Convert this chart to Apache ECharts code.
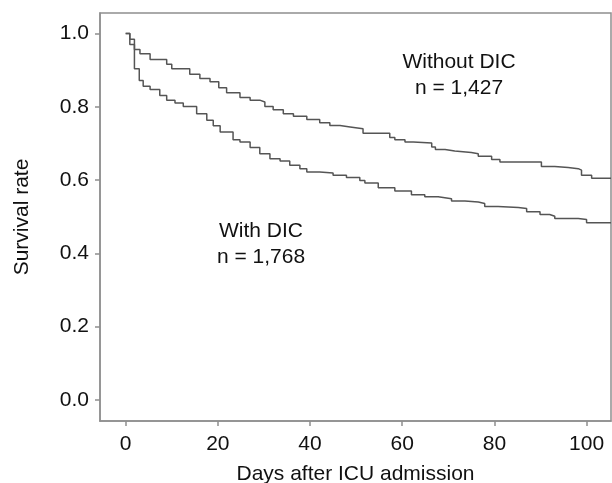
<!DOCTYPE html>
<html>
<head>
<meta charset="utf-8">
<script src="https://cdn.jsdelivr.net/npm/echarts@6/dist/echarts.min.js"></script>
<style>
html,body{margin:0;padding:0;background:#fff;}
#c{width:612px;height:483px;}
</style>
</head>
<body>
<div id="c"></div>
<script>
// Kaplan-Meier step points: [day of change, survival after change]
const withoutDays = [0,0.9,1.9,3.1,5.3,8.9,10,13.9,16.1,18.3,20.2,21.9,24.8,27,29.1,30.2,32,34.2,36.4,39.3,42.1,44.3,46.5,48.7,51.5,57.3,58.4,60.6,62.4,66.4,67.2,69.3,71.4,75,76.5,79.4,81.2,90.2,93.1,96,98.2,98.9,101.1,105.3];
const withoutSurv = [1.0,0.970,0.956,0.945,0.929,0.916,0.904,0.889,0.877,0.868,0.852,0.838,0.825,0.818,0.813,0.801,0.792,0.781,0.774,0.765,0.756,0.749,0.745,0.740,0.728,0.716,0.710,0.704,0.701,0.690,0.683,0.679,0.675,0.672,0.665,0.656,0.649,0.637,0.634,0.631,0.627,0.613,0.605,0.605];
const withDays = [0,0.9,1.9,2.95,3.8,5.3,7.4,8.9,10.7,12.5,15.4,17.6,19,20.5,23.3,24.8,27,29.1,31.3,33.5,35.6,37.8,39.3,42.1,45,47.9,50.8,51.9,54.8,58.4,62,64.9,67.8,70.7,73.6,76.5,77.9,80.8,85.2,87,89.9,92,93.1,98.2,100,105.3];
const withSurv = [1.0,0.984,0.904,0.872,0.856,0.847,0.831,0.818,0.810,0.801,0.781,0.763,0.748,0.731,0.710,0.704,0.689,0.672,0.658,0.652,0.640,0.631,0.622,0.619,0.613,0.607,0.599,0.592,0.579,0.570,0.560,0.554,0.549,0.543,0.540,0.536,0.528,0.525,0.522,0.513,0.506,0.501,0.495,0.492,0.483,0.483];
const xTicks = [0,20,40,60,80,100];
const yTicks = [0,0.2,0.4,0.6,0.8,1.0];
const withoutLabel = ['Without DIC','n = 1,427'];
const withLabel = ['With DIC','n = 1,768'];

const FONT = '"Liberation Sans", Arial, sans-serif';
const FS = 21;
const AX = '#8f8f8f';
const LINE = '#555555';
const TXT = '#111111';

const chart = echarts.init(document.getElementById('c'), null, {renderer:'canvas'});
const zip = (a,b) => a.map((v,i)=>[v,b[i]]);

chart.setOption({
  animation:false,
  backgroundColor:'#fff',
  grid:{left:100,right:1,top:13,bottom:62,containLabel:false,outerBoundsMode:'none',show:true,borderColor:AX,borderWidth:1.5,backgroundColor:'transparent'},
  xAxis:{
    type:'value', min:-5.57, max:105.3,
    name:'Days after ICU admission', nameLocation:'middle', nameGap:43,
    nameTextStyle:{fontFamily:FONT,fontSize:FS,color:TXT},
    axisLine:{show:true,onZero:false,lineStyle:{color:AX,width:1.5}},
    axisTick:{show:true,length:5,lineStyle:{color:AX,width:1.5},customValues:xTicks},
    axisLabel:{show:true,margin:13,fontFamily:FONT,fontSize:FS,color:TXT,customValues:xTicks,formatter:v=>String(v)},
    splitLine:{show:false}
  },
  yAxis:{
    type:'value', min:-0.058, max:1.056,
    name:'Survival rate', nameLocation:'middle', nameGap:67, nameRotate:90,
    nameTextStyle:{fontFamily:FONT,fontSize:FS,color:TXT},
    axisLine:{show:true,onZero:false,lineStyle:{color:AX,width:1.5}},
    axisTick:{show:true,length:5,lineStyle:{color:AX,width:1.5},customValues:yTicks},
    axisLabel:{show:true,margin:11,fontFamily:FONT,fontSize:FS,color:TXT,customValues:yTicks,formatter:v=>v.toFixed(1)},
    splitLine:{show:false}
  },
  series:[
    {type:'line',step:'end',data:zip(withoutDays,withoutSurv),showSymbol:false,symbol:'none',
     lineStyle:{color:LINE,width:1.5},silent:true},
    {type:'line',step:'end',data:zip(withDays,withSurv),showSymbol:false,symbol:'none',
     lineStyle:{color:LINE,width:1.5},silent:true}
  ],
  graphic:[
    {type:'text',x:459,y:75,style:{text:withoutLabel.join('\n'),fontFamily:FONT,fontSize:FS,lineHeight:26.5,fill:TXT,align:'center',verticalAlign:'middle'}},
    {type:'text',x:261,y:244,style:{text:withLabel.join('\n'),fontFamily:FONT,fontSize:FS,lineHeight:26.5,fill:TXT,align:'center',verticalAlign:'middle'}}
  ]
});
</script>
</body>
</html>
